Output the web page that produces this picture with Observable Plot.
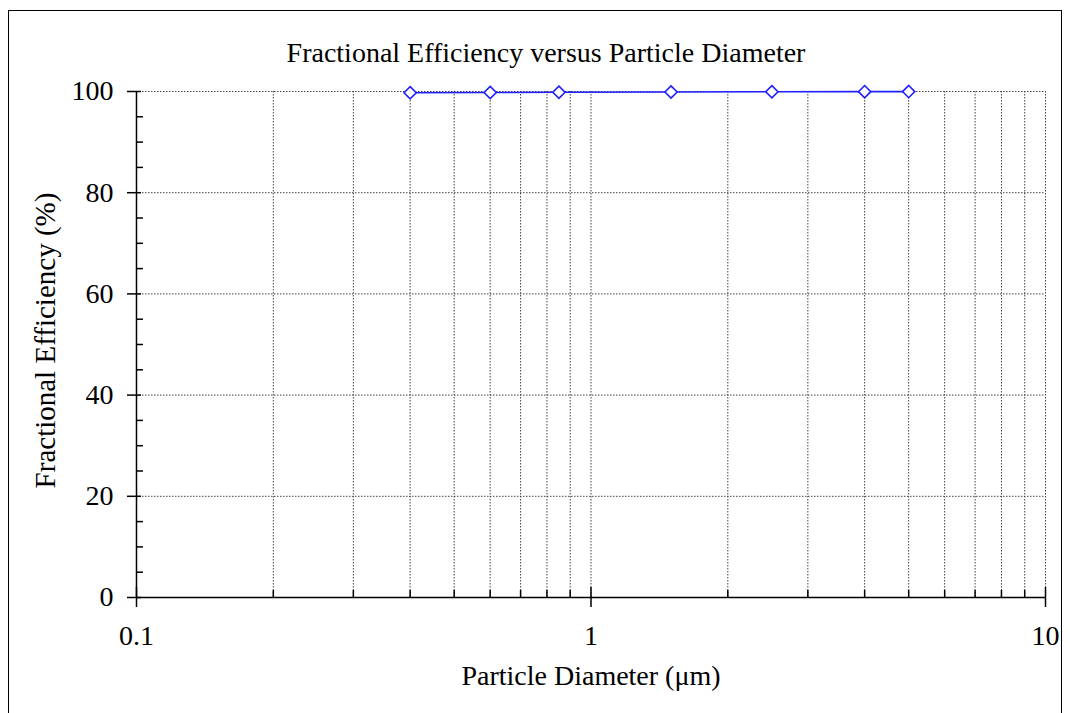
<!DOCTYPE html>
<html><head><meta charset="utf-8">
<script src="https://cdn.jsdelivr.net/npm/d3@7"></script>
<script src="https://cdn.jsdelivr.net/npm/@observablehq/plot@0.6"></script>
<style>
body{margin:0;background:#fff;}
#wrap{position:relative;width:1070px;height:713px;overflow:hidden;background:#fff;}
#border{position:absolute;left:8px;top:10px;width:1052px;height:720px;border:1.5px solid #000;}
#chart{position:absolute;left:0;top:0;}
#chart svg, #chart svg text{font-family:"Liberation Serif", "Times New Roman", serif !important;}
</style></head>
<body><div id="wrap"><div id="border"></div><div id="chart"></div></div>
<script>
const diameters = [0.4, 0.6, 0.85, 1.5, 2.5, 4, 5];
const efficiency = [99.75, 99.8, 99.85, 99.9, 99.95, 99.97, 99.98];
const xMajorTicks = [0.1, 1, 10];
const xMinorTicks = [0.2, 0.3, 0.4, 0.5, 0.6, 0.7, 0.8, 0.9, 2, 3, 4, 5, 6, 7, 8, 9];
const yMajorTicks = [0, 20, 40, 60, 80, 100];
const yMinorTicks = [5, 10, 15, 25, 30, 35, 45, 50, 55, 65, 70, 75, 85, 90, 95];
const xGridLines = [0.2, 0.3, 0.4, 0.5, 0.6, 0.7, 0.8, 0.9, 1, 2, 3, 4, 5, 6, 7, 8, 9, 10];
const yGridLines = [20, 40, 60, 80, 100];
const titleText = "Fractional Efficiency versus Particle Diameter";
const xLabel = "Particle Diameter (\u03bcm)";
const yLabel = "Fractional Efficiency (%)";

const data = diameters.map((d, i) => ({d, e: efficiency[i]}));
const font = "Liberation Serif";

const chart = Plot.plot({
  width: 1070, height: 713,
  marginLeft: 136, marginRight: 25, marginTop: 91, marginBottom: 116,
  x: {type: "log", domain: [0.1, 10]},
  y: {domain: [0, 100]},
  style: {fontFamily: font, fontSize: "28px", background: "transparent", color: "#000"},
  marks: [
    Plot.ruleX(xGridLines, {stroke: "#444", strokeWidth: 1, strokeDasharray: "1.5,1.5"}),
    Plot.ruleY(yGridLines, {stroke: "#444", strokeWidth: 1, strokeDasharray: "1.5,1.5"}),
    Plot.axisX(xMinorTicks, {tickSize: -7, tickFormat: () => "", label: null, strokeWidth: 1.5}),
    Plot.axisX(xMajorTicks, {tickSize: 10, tickPadding: 18, tickFormat: d => String(d), label: null, strokeWidth: 1.5, fontSize: 28, fontFamily: font}),
    Plot.axisX(xMajorTicks, {tickSize: -10, tickFormat: () => "", label: null, strokeWidth: 1.5}),
    Plot.axisY(yMinorTicks, {tickSize: -7, tickFormat: () => "", label: null, strokeWidth: 1.5}),
    Plot.axisY(yMajorTicks, {tickSize: 9, tickPadding: 14, tickFormat: d => String(d), label: null, strokeWidth: 1.5, fontSize: 28, fontFamily: font}),
    Plot.axisY(yMajorTicks, {tickSize: -5, tickFormat: () => "", label: null, strokeWidth: 1.5}),
    Plot.ruleX([0.1], {stroke: "#000", strokeWidth: 1.5}),
    Plot.ruleY([0], {stroke: "#000", strokeWidth: 1.5}),
    Plot.line(data, {x: "d", y: "e", stroke: "#1f1fff", strokeWidth: 1.6}),
    Plot.dot(data, {x: "d", y: "e", symbol: "diamond2", r: 5.5, stroke: "#1f1fff", fill: "#fff", strokeWidth: 1.6}),
    Plot.text([titleText], {frameAnchor: "top", dx: -45, dy: -49, fontSize: 28, fontFamily: font, fill: "#000"}),
    Plot.text([xLabel], {frameAnchor: "bottom", dy: 87, fontSize: 28, fontFamily: font, fill: "#000"}),
    Plot.text([yLabel], {frameAnchor: "left", textAnchor: "middle", dx: -91, dy: -4, rotate: -90, fontSize: 29, fontFamily: font, fill: "#000"})
  ]
});
document.getElementById("chart").append(chart);
</script>
</body></html>
